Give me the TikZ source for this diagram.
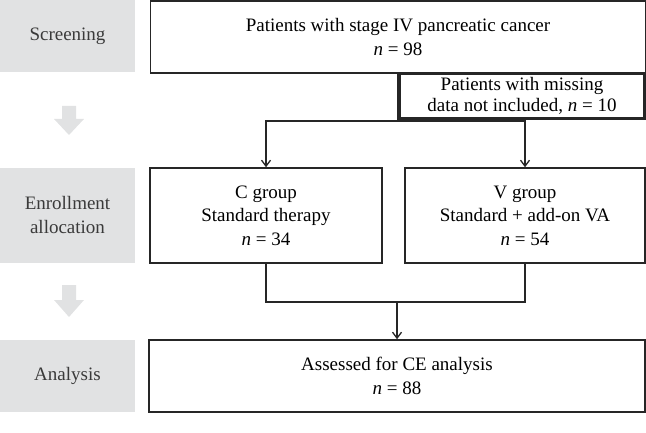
\documentclass[tikz,border=0pt]{standalone}
\usepackage{fontspec}
\setmainfont{Liberation Serif}
\usetikzlibrary{arrows.meta}
\definecolor{stagegray}{HTML}{E1E2E3}
\definecolor{stagetext}{HTML}{3A3A3A}
\tikzset{
  stagebox/.style={fill=stagegray, draw=none, minimum width=135pt, text=stagetext, align=center, inner sep=0pt, font=\fontsize{19}{24}\selectfont},
  flowbox/.style={draw=black!85, line width=1.5pt, fill=white, align=center, inner sep=0pt, font=\fontsize{19}{23.5}\selectfont},
  conn/.style={draw=black!85, line width=1.4pt},
  arr/.style={conn, -{Straight Barb[length=6pt,width=9pt,line width=1.3pt]}},
  grayarrow/.style={fill=stagegray, draw=none}
}
\begin{document}
\begin{tikzpicture}[x=1pt,y=-1pt]
\useasboundingbox (0,0) rectangle (646,433);
% stage labels
\node[stagebox, minimum height=72pt] (scr) at (67.5,36) {Screening};
\node[stagebox, minimum height=95pt] (enr) at (67.5,215.5) {Enrollment\\allocation};
\node[stagebox, minimum height=72pt] (ana) at (67.5,376) {Analysis};
% gray arrows
\fill[grayarrow] (62,106) -- (76,106) -- (76,119) -- (84,119) -- (69,135) -- (54,119) -- (62,119) -- cycle;
\fill[grayarrow] (62,285) -- (76,285) -- (76,300) -- (84,300) -- (69,317) -- (54,300) -- (62,300) -- cycle;
% flow boxes
\node[flowbox, minimum width=495pt, minimum height=72pt] (top) at (398,37) {Patients with stage IV pancreatic cancer\\\textit{n} = 98};
\node[flowbox, line width=2.6pt, minimum width=245pt, minimum height=45pt, font=\fontsize{19}{20.5}\selectfont] (miss) at (522,96) {Patients with missing\\data not included, \textit{n} = 10};
\node[flowbox, minimum width=232pt, minimum height=95pt] (cg) at (266,215.5) {C group\\Standard therapy\\\textit{n} = 34};
\node[flowbox, minimum width=240pt, minimum height=95pt] (vg) at (525,215.5) {V group\\Standard + add-on VA\\\textit{n} = 54};
\node[flowbox, minimum width=496pt, minimum height=72pt] (anb) at (397,376) {Assessed for CE analysis\\\textit{n} = 88};
% connectors
\coordinate (j) at (398,121);
\coordinate (k) at (397,302);
\draw[conn] (top.south) -- (j);
\draw[arr] (j) -| (cg.north);
\draw[arr] (j) -| (vg.north);
\draw[conn] (cg.south) |- (k);
\draw[conn] (vg.south) |- (k);
\draw[arr] (k) -- (anb.north);
\end{tikzpicture}
\end{document}
